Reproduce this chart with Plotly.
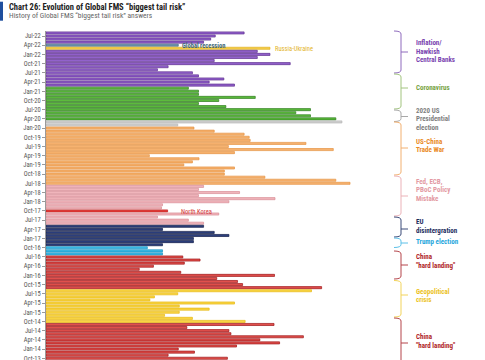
import plotly.graph_objects as go
import pandas as pd

# Monthly survey dates, newest first (Aug-22 ... Oct-13)
months = [d.strftime("%b-%y") for d in pd.date_range("2013-10-01", "2022-08-01", freq="MS")][::-1]

# % of FMS respondents naming the top tail risk
share = [
    39.1, 33.4, 32.5, 31.1, 26.1, 44.2, 41.7, 44.2, 41.7, 33.2,
    48.2, 24.1, 22.0, 28.9, 30.1, 35.1, 32.2, 37.2, 28.1, 30.1,
    30.1, 41.3, 34.1, 30.1, 35.5, 52.2, 49.3, 52.2, 57.2, 58.4,
    26.0, 29.2, 33.2, 39.1, 40.1, 40.3, 51.3, 36.0, 56.7, 37.2,
    20.4, 30.2, 28.9, 27.2, 37.2, 35.2, 35.2, 43.2, 57.2, 60.0,
    31.1, 30.1, 38.2, 30.1, 45.2, 36.1, 23.0, 22.8, 24.0, 34.1,
    22.0, 28.1, 31.1, 31.1, 23.0, 33.2, 36.1, 29.1, 29.1, 23.0,
    20.0, 23.0, 23.0, 27.0, 30.4, 27.3, 21.2, 18.4, 26.6, 45.1,
    33.7, 37.8, 38.8, 54.4, 52.4, 26.0, 21.4, 20.5, 37.2, 26.3,
    32.2, 26.3, 23.4, 28.9, 39.3, 45.0, 27.8, 36.1, 36.5, 50.8,
    42.2, 46.1, 37.6, 26.1, 29.3, 24.1, 35.8,
]

# Top risk for each month, as consecutive runs (newest first)
risk_runs = [
    ("Inflation", 4), ("Global recession", 1), ("Russia-Ukraine", 1), ("Inflation", 12),
    ("Coronavirus", 11), ("US election 2020", 2), ("Trade war", 19), ("Policy mistake", 8),
    ("North Korea", 1), ("Policy mistake", 4), ("EU disintegration", 7), ("Trump election", 3),
    ("China hard landing", 11), ("Geopolitical", 11), ("China hard landing", 12),
]

fill = {
    "Inflation": "#9262cc", "Global recession": "#6d93ad", "Russia-Ukraine": "#f5cd4a",
    "Coronavirus": "#5cbb3c", "US election 2020": "#d2d2d2", "Trade war": "#f6b26f",
    "Policy mistake": "#f0b5bb", "North Korea": "#e4403c", "EU disintegration": "#2c3f7c",
    "Trump election": "#3cbde8", "China hard landing": "#e1504c", "Geopolitical": "#f9d545",
}
edge = {
    "Inflation": "#5e2f8f", "Global recession": "#3f6a85", "Russia-Ukraine": "#e2b21c",
    "Coronavirus": "#2f7d1f", "US election 2020": "#b5b5b5", "Trade war": "#e59443",
    "Policy mistake": "#d98c95", "North Korea": "#c01f1f", "EU disintegration": "#111c48",
    "Trump election": "#1b92c2", "China hard landing": "#9e1519", "Geopolitical": "#e6b812",
}

risks = [r for r, n in risk_runs for _ in range(n)]

# right-hand bracket labels: (text lines, line y px, bracket top, mid, bottom, colour)
brackets = [
    (["Inflation/", "Hawkish", "Central Banks"], [43.3, 51.8, 60.3], 31, 52, 73, "#7a44b0", "#8f6bbd"),
    (["Coronavirus"], [88.3], 74, 88, 109, "#78a344", "#a2c47f"),
    (["2020 US", "Presidential", "election"], [110.5, 119, 127.5], 110, 116.5, 121.5, "#7f7f7f", "#a8a8a8"),
    (["US-China", "Trade War"], [141.7, 150.3], 122, 148, 175, "#ea8a25", "#f2b070"),
    (["Fed, ECB,", "PBoC Policy", "Mistake"], [181.7, 190.2, 198.5], 176, 196, 216, "#e39aa3", "#ebb2b8"),
    (["EU", "disintergration"], [221.7, 230.7], 217, 229, 237, "#1d2d5e", "#3b4a78"),
    (["Trump election"], [241.7], 238, 243, 247.5, "#25a6dc", "#5cc0e8"),
    (["China", "\"hard landing\""], [257.3, 266.2], 251, 265, 279, "#b01f28", "#b5454b"),
    (["Geopolitical", "crisis"], [291.7, 300.2], 280.5, 295, 317, "#ecc21e", "#f2d35a"),
    (["China", "\"hard landing\""], [336.7, 345.7], 318, 343, 365, "#b01f28", "#b5454b"),
]

W, H = 485, 360
ML, MT = 46, 31
PW, PH = W - ML, H - MT


def px(x):
    return (x - ML) / PW


def py(y):
    return 1 - (y - MT) / PH


FONT = "Liberation Sans Narrow, Roboto Condensed, Arial Narrow, Liberation Sans, sans-serif"

fig = go.Figure(
    go.Bar(
        x=share,
        y=months,
        orientation="h",
        marker=dict(
            color=[fill[r] for r in risks],
            line=dict(color=[edge[r] for r in risks], width=0.7),
        ),
        hoverinfo="x+y",
    )
)

shapes = [
    dict(type="rect", xref="paper", yref="paper", x0=px(0), x1=px(3), y0=py(1.7), y1=py(20.7),
         fillcolor="#1f4f9e", line=dict(width=0)),
]
annotations = [
    dict(xref="paper", yref="paper", x=px(6.5), y=py(6.7), xanchor="left", yanchor="middle",
         text="<b>Chart 26: Evolution of Global FMS \u201cbiggest tail risk\u201d</b>", showarrow=False,
         font=dict(family=FONT, size=8.5, color="#222")),
    dict(xref="paper", yref="paper", x=px(6.5), y=py(15.8), xanchor="left", yanchor="middle",
         text="History of Global FMS \u201cbiggest tail risk\u201d answers", showarrow=False,
         font=dict(family=FONT, size=7.5, color="#666")),
    dict(xref="paper", yref="paper", x=px(180), y=py(45.6), xanchor="left", yanchor="middle",
         text="<b>Global recession</b>", showarrow=False,
         font=dict(family=FONT, size=6.5, color="#3e6878")),
    dict(xref="paper", yref="paper", x=px(272.5), y=py(48.6), xanchor="left", yanchor="middle",
         text="Russia-Ukraine", showarrow=False,
         font=dict(family=FONT, size=6.5, color="#e3b326")),
    dict(xref="paper", yref="paper", x=px(178.5), y=py(211.5), xanchor="left", yanchor="middle",
         text="North Korea", showarrow=False,
         font=dict(family=FONT, size=6.5, color="#d53a3a")),
]

for lines, ys, top, mid, bot, tcol, lcol in brackets:
    path = (f"M {px(394)} {py(top)} Q {px(401)} {py(top)} {px(401)} {py(top + 3)} "
            f"L {px(401)} {py(bot - 3)} Q {px(401)} {py(bot)} {px(394)} {py(bot)}")
    shapes.append(dict(type="path", xref="paper", yref="paper", path=path,
                       line=dict(color=lcol, width=1)))
    shapes.append(dict(type="line", xref="paper", yref="paper", x0=px(401), x1=px(408),
                       y0=py(mid), y1=py(mid), line=dict(color=lcol, width=1)))
    for t, yy in zip(lines, ys):
        annotations.append(dict(xref="paper", yref="paper", x=px(413.5), y=py(yy),
                                xanchor="left", yanchor="middle", text=f"<b>{t}</b>",
                                showarrow=False, font=dict(family=FONT, size=7, color=tcol)))

fig.update_layout(
    width=W, height=H,
    margin=dict(l=ML, r=0, t=MT, b=0, autoexpand=False),
    paper_bgcolor="white", plot_bgcolor="white",
    bargap=0.32,
    showlegend=False,
    xaxis=dict(range=[0, PW / 5.067], visible=False, showgrid=False, zeroline=False,
               automargin=False),
    yaxis=dict(
        type="category", categoryorder="array", categoryarray=months,
        range=[106.57, -0.63], automargin=False,
        tickmode="array", tickvals=months[1::3], ticktext=months[1::3],
        ticks="outside", ticklen=3, tickcolor="#9a9a9a", tickwidth=1,
        showline=True, linecolor="#9a9a9a", linewidth=1,
        showgrid=False, zeroline=False,
        tickfont=dict(family=FONT, size=6.5, color="#555"),
    ),
    shapes=shapes,
    annotations=annotations,
)

fig.write_html(
    "out.html",
    config={"displayModeBar": False},
    post_script="document.body.style.margin='0';document.body.style.overflow='hidden';",
)
